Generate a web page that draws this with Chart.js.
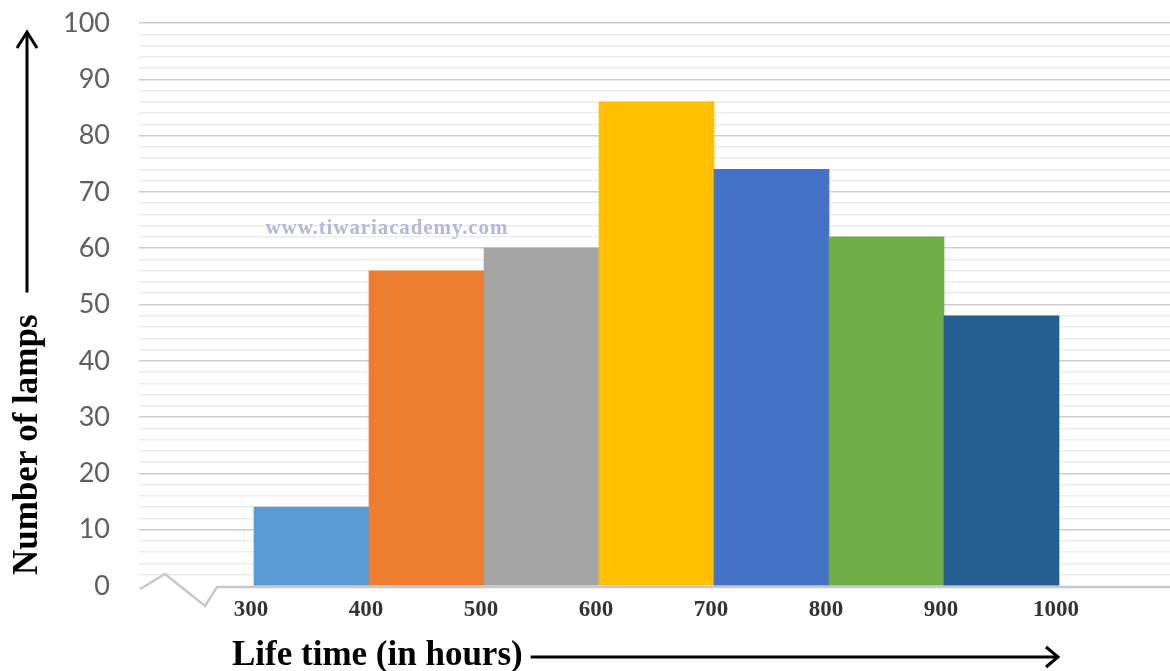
<!DOCTYPE html>
<html>
<head>
<meta charset="utf-8">
<title>Life time of lamps</title>
<script src="https://cdn.jsdelivr.net/npm/chart.js@4.4.1/dist/chart.umd.min.js"></script>
<style>
  html, body { margin: 0; padding: 0; background: #ffffff; }
  #wrap { width: 1170px; height: 671px; position: relative; }
</style>
</head>
<body>
<div id="wrap"><canvas id="chart" width="1170" height="671"></canvas></div>
<script>
// Class intervals of lamp life time (hours) and the number of lamps in each
const classStarts = [300, 400, 500, 600, 700, 800, 900];
const classWidth = 100;
const lampCounts = [14, 56, 60, 86, 74, 62, 48];
const barColors = ['#5b9bd5', '#ed7d31', '#a5a5a5', '#ffc000', '#4472c4', '#70ad47', '#255e91'];
const xTickValues = [300, 400, 500, 600, 700, 800, 900, 1000];
const yTitle = 'Number of lamps';
const xTitle = 'Life time (in hours)';
const watermark = 'www.tiwariacademy.com';

const barData = classStarts.map((s, i) => ({ x: s + classWidth / 2, y: lampCounts[i] }));

// Axis break zig-zag, baseline, arrows, titles and watermark
const decorations = {
  id: 'decorations',
  beforeDatasetsDraw(chart) {
    const { ctx, chartArea: a } = chart;
    ctx.save();
    ctx.strokeStyle = '#c8c8c8';
    ctx.lineWidth = 2.5;
    ctx.lineJoin = 'miter';
    ctx.beginPath();
    ctx.moveTo(a.left + 1, a.bottom + 3);
    ctx.lineTo(a.left + 26, a.bottom - 12);
    ctx.lineTo(a.left + 66, a.bottom + 20);
    ctx.lineTo(a.left + 78, a.bottom + 1);
    ctx.lineTo(a.right, a.bottom + 1);
    ctx.stroke();
    ctx.restore();
  },
  afterDraw(chart) {
    const { ctx, chartArea: a, scales } = chart;
    ctx.save();
    // watermark
    ctx.fillStyle = '#b7b7dd';
    ctx.font = 'bold 21px "Liberation Serif", serif';
    ctx.letterSpacing = '0.9px';
    ctx.textAlign = 'left';
    ctx.textBaseline = 'middle';
    ctx.fillText(watermark, scales.x.getPixelForValue(310), scales.y.getPixelForValue(63.4));
    ctx.letterSpacing = '0px';

    ctx.fillStyle = '#000000';
    ctx.strokeStyle = '#000000';
    ctx.lineWidth = 3;
    ctx.lineCap = 'butt';

    // y title, rotated, with arrow pointing up
    ctx.font = 'bold 35px "Liberation Serif", serif';
    const yx = 28, yStart = a.bottom - 11;
    const yw = ctx.measureText(yTitle).width;
    ctx.save();
    ctx.translate(yx, yStart);
    ctx.rotate(-Math.PI / 2);
    ctx.textAlign = 'left';
    ctx.textBaseline = 'middle';
    ctx.fillText(yTitle, 0, 0);
    ctx.restore();
    const yArrowTop = a.top + 9;
    ctx.beginPath();
    ctx.moveTo(yx - 1, yStart - yw - 22);
    ctx.lineTo(yx - 1, yArrowTop + 1);
    ctx.stroke();
    ctx.beginPath();
    ctx.moveTo(yx - 11, yArrowTop + 16);
    ctx.lineTo(yx - 1, yArrowTop);
    ctx.lineTo(yx + 9, yArrowTop + 16);
    ctx.stroke();

    // x title with arrow pointing right
    ctx.font = 'bold 35px "Liberation Serif", serif';
    ctx.textAlign = 'left';
    ctx.textBaseline = 'alphabetic';
    const xl = 232, xb = 665;
    ctx.fillText(xTitle, xl, xb);
    const xw = ctx.measureText(xTitle).width;
    const ay = 657;
    const tip = scales.x.getPixelForValue(1000) - 1;
    ctx.beginPath();
    ctx.moveTo(xl + xw + 8, ay);
    ctx.lineTo(tip - 1, ay);
    ctx.stroke();
    ctx.beginPath();
    ctx.moveTo(tip - 12, ay - 10);
    ctx.lineTo(tip, ay);
    ctx.lineTo(tip - 12, ay + 10);
    ctx.stroke();
    ctx.restore();
  }
};

new Chart(document.getElementById('chart'), {
  type: 'bar',
  data: {
    datasets: [{
      data: barData,
      backgroundColor: barColors,
      borderWidth: 0,
      barPercentage: 1,
      categoryPercentage: 1
    }]
  },
  options: {
    responsive: false,
    animation: false,
    layout: { padding: { top: 23, right: 0, left: 0, bottom: 0 } },
    plugins: { legend: { display: false }, tooltip: { enabled: false } },
    scales: {
      x: {
        type: 'linear',
        offset: false,
        min: 200,
        max: 200 + (1170 - 139) / 1.15,
        afterBuildTicks(scale) { scale.ticks = xTickValues.map(v => ({ value: v })); },
        afterFit(scale) {
          scale.height = 85;
          scale.paddingLeft = 0;
          scale.paddingRight = 0;
        },
        grid: { display: false, drawTicks: false, offset: false },
        border: { display: false },
        ticks: {
          autoSkip: false,
          maxRotation: 0,
          padding: 10,
          labelOffset: -3,
          color: '#333333',
          font: { family: '"Liberation Serif", serif', size: 23, weight: 'bold' },
          callback: v => String(v)
        }
      },
      y: {
        min: 0,
        max: 100,
        afterFit(scale) {
          scale.width = 139;
          scale.paddingTop = 0;
          scale.paddingBottom = 0;
        },
        border: { display: false },
        grid: {
          drawTicks: false,
          lineWidth: 1.5,
          color: ctx => {
            const v = ctx.tick ? ctx.tick.value : 0;
            if (v === 0) return 'rgba(0,0,0,0)';
            return v % 10 === 0 ? '#cdcdcd' : '#ececec';
          }
        },
        ticks: {
          stepSize: 2,
          autoSkip: false,
          padding: 29,
          color: '#5f5f5f',
          font: { family: 'Lato, "Open Sans", sans-serif', size: 27 },
          callback: v => (v % 10 === 0 ? String(v) : '')
        }
      }
    }
  },
  plugins: [decorations]
});
</script>
</body>
</html>
